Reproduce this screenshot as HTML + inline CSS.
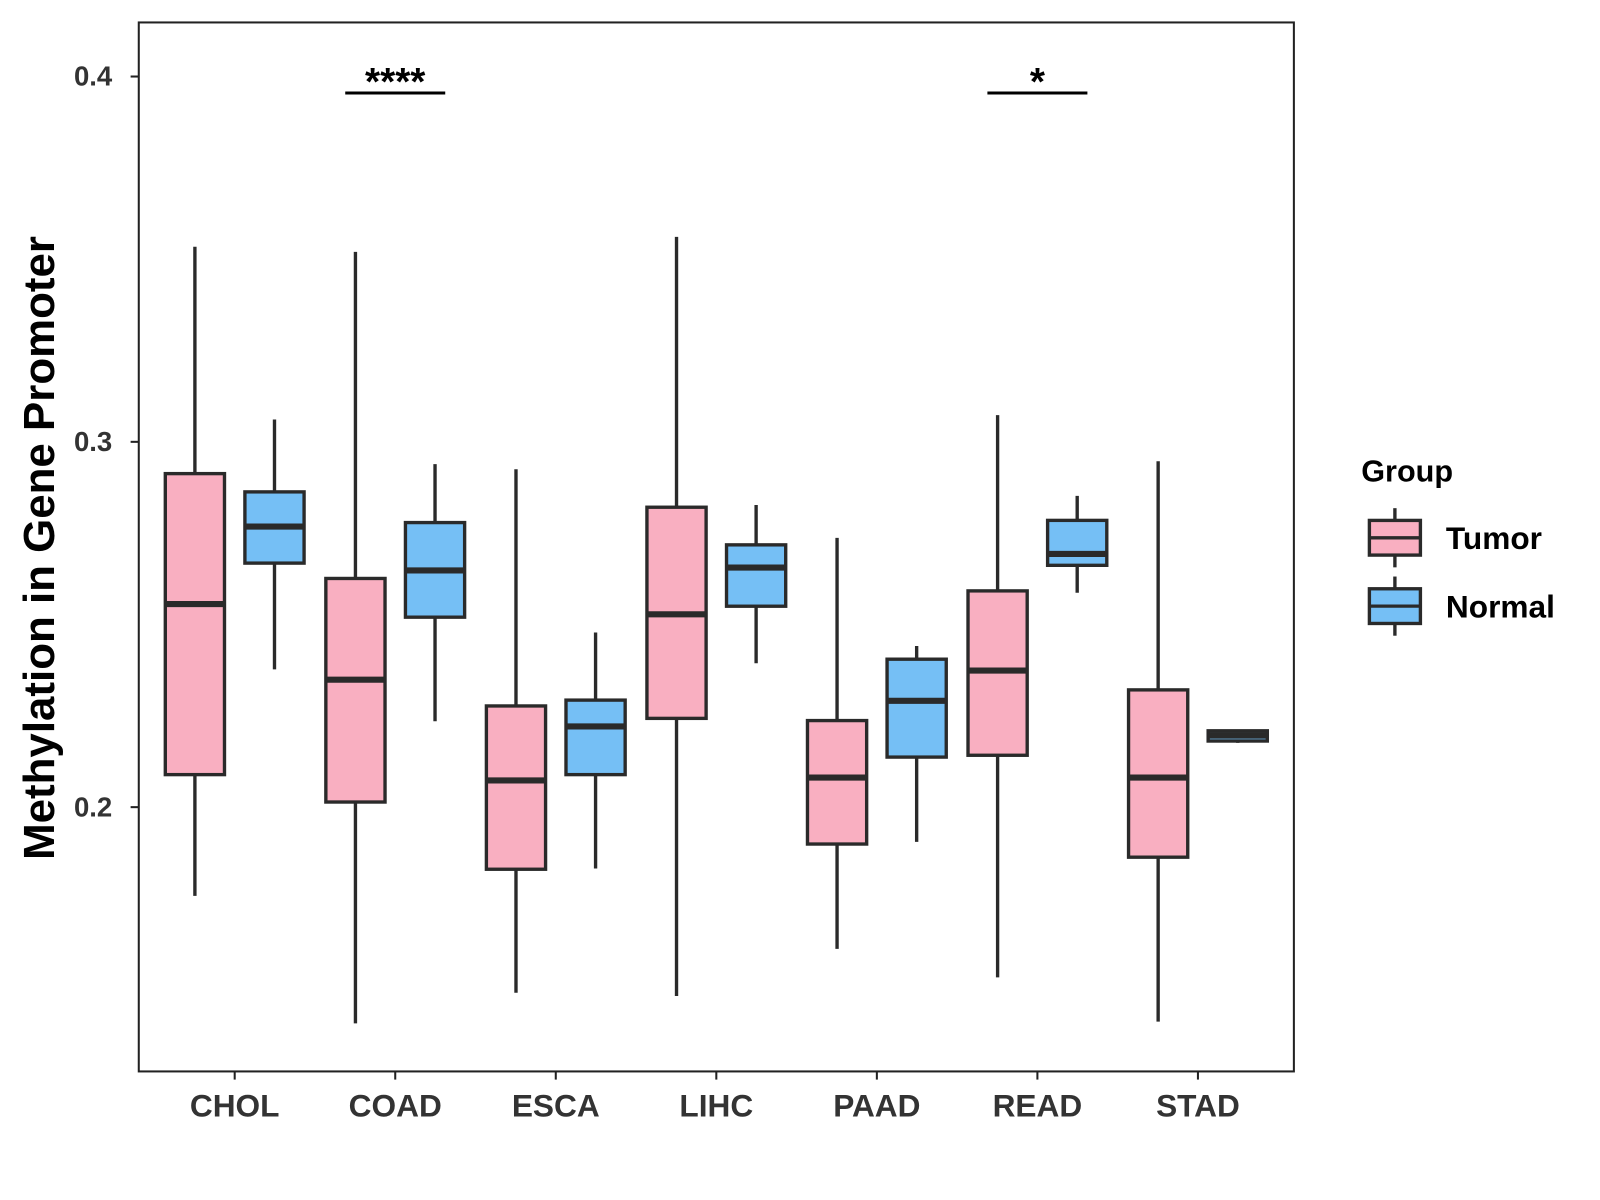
<!DOCTYPE html>
<html><head><meta charset="utf-8"><style>
body{margin:0;background:#fff}
svg{display:block;font-family:"Liberation Sans",Arial,sans-serif}
</style></head><body>
<svg id="chart" width="1600" height="1200" viewBox="0 0 1600 1200">
<g transform="scale(1.02041)">
<rect x="136" y="22" width="1132" height="1028" fill="#fff" stroke="#222" stroke-width="2"/>
<g id="marks"></g>
<g id="axes"></g>
<text transform="translate(53,537) rotate(-90)" text-anchor="middle" font-size="43" font-weight="bold" fill="#000">Methylation in Gene Promoter</text>
<g>
<text x="1334" y="472" font-size="30" font-weight="bold" fill="#000">Group</text>
<g>
<line x1="1367" y1="498" x2="1367" y2="556" stroke="#2a2a2a" stroke-width="3.3"/>
<rect x="1342" y="510" width="50" height="34" fill="#F9AFC1" stroke="#2a2a2a" stroke-width="3.3"/>
<line x1="1342" y1="527" x2="1392" y2="527" stroke="#2a2a2a" stroke-width="3.3"/>
<text x="1417" y="538" font-size="31" font-weight="bold" fill="#000">Tumor</text>
</g>
<g>
<line x1="1367" y1="565" x2="1367" y2="623" stroke="#2a2a2a" stroke-width="3.3"/>
<rect x="1342" y="577" width="50" height="34" fill="#75BFF5" stroke="#2a2a2a" stroke-width="3.3"/>
<line x1="1342" y1="594" x2="1392" y2="594" stroke="#2a2a2a" stroke-width="3.3"/>
<text x="1417" y="605" font-size="31" font-weight="bold" fill="#000">Normal</text>
</g>
</g>
</g>
</svg>
<script>
const categories=["CHOL","COAD","ESCA","LIHC","PAAD","READ","STAD"];
// [max, q3, median, q1, min]
const tumorStats=[[0.3534,0.2913,0.2556,0.2089,0.1757],[0.3520,0.2626,0.2349,0.2014,0.1408],[0.2925,0.2277,0.2073,0.1830,0.1492],[0.3561,0.2821,0.2528,0.2243,0.1483],[0.2737,0.2237,0.2081,0.1899,0.1612],[0.3073,0.2592,0.2374,0.2142,0.1534],[0.2947,0.2321,0.2081,0.1863,0.1413]];
const normalStats=[[0.3061,0.2863,0.2768,0.2668,0.2377],[0.2939,0.2779,0.2648,0.2520,0.2235],[0.2478,0.2293,0.2221,0.2089,0.1832],[0.2827,0.2718,0.2656,0.2550,0.2394],[0.2441,0.2405,0.2291,0.2137,0.1905],[0.2852,0.2785,0.2693,0.2662,0.2587],[0.2212,0.2209,0.2196,0.2181,0.2176]];
const yTicks=[0.2,0.3,0.4];
const sigCategories=["COAD","READ"];
const sigLabels=["****","*"];
const sigValue=0.3955;
const NS="http://www.w3.org/2000/svg";
function y(v){return 75+(0.4-v)*3580;}
function x(i){return 230+i*157.33;}
function mk(tag,attrs,parent){const e=document.createElementNS(NS,tag);for(const k in attrs)e.setAttribute(k,attrs[k]);parent.appendChild(e);return e;}
const marks=document.getElementById('marks'),axes=document.getElementById('axes');
function box(cx,s,fill,name){
  const g=mk('g',{},marks);
  
  
  mk('line',{x1:cx,x2:cx,y1:y(s[0]),y2:y(s[4]),stroke:'#2a2a2a','stroke-width':3.3},g);
  mk('rect',{x:cx-29,y:y(s[1]),width:58,height:Math.max(y(s[3])-y(s[1]),1),fill:fill,stroke:'#2a2a2a','stroke-width':3.3},g);
  mk('line',{x1:cx-29,x2:cx+29,y1:y(s[2]),y2:y(s[2]),stroke:'#2a2a2a','stroke-width':6},g);
}
categories.forEach((c,i)=>{
  box(x(i)-39,tumorStats[i],'#F9AFC1','box-'+c.toLowerCase()+'-tumor');
  box(x(i)+39,normalStats[i],'#75BFF5','box-'+c.toLowerCase()+'-normal');
  mk('line',{x1:x(i),x2:x(i),y1:1050,y2:1058,stroke:'#222','stroke-width':2},axes);
  const t=mk('text',{x:x(i),y:1094,'text-anchor':'middle','font-size':31,'font-weight':'bold',fill:'#333'},axes);
  t.textContent=c;
  
  
});
yTicks.forEach(v=>{
  mk('line',{x1:128,x2:136,y1:y(v),y2:y(v),stroke:'#222','stroke-width':2},axes);
  const t=mk('text',{x:110,y:y(v)+9,'text-anchor':'end','font-size':27,'font-weight':'bold',fill:'#333'},axes);
  t.textContent=v.toFixed(1);
  
  
});
sigCategories.forEach((c,k)=>{
  const i=categories.indexOf(c);
  const g=mk('g',{},marks);
  
  
  mk('line',{x1:x(i)-49,x2:x(i)+49,y1:y(sigValue),y2:y(sigValue),stroke:'#000','stroke-width':3},g);
  const t=mk('text',{x:x(i),y:y(sigValue)+2,'text-anchor':'middle','font-size':38,'font-weight':'bold',fill:'#000'},g);
  t.textContent=sigLabels[k];
});
</script>
</body></html>
